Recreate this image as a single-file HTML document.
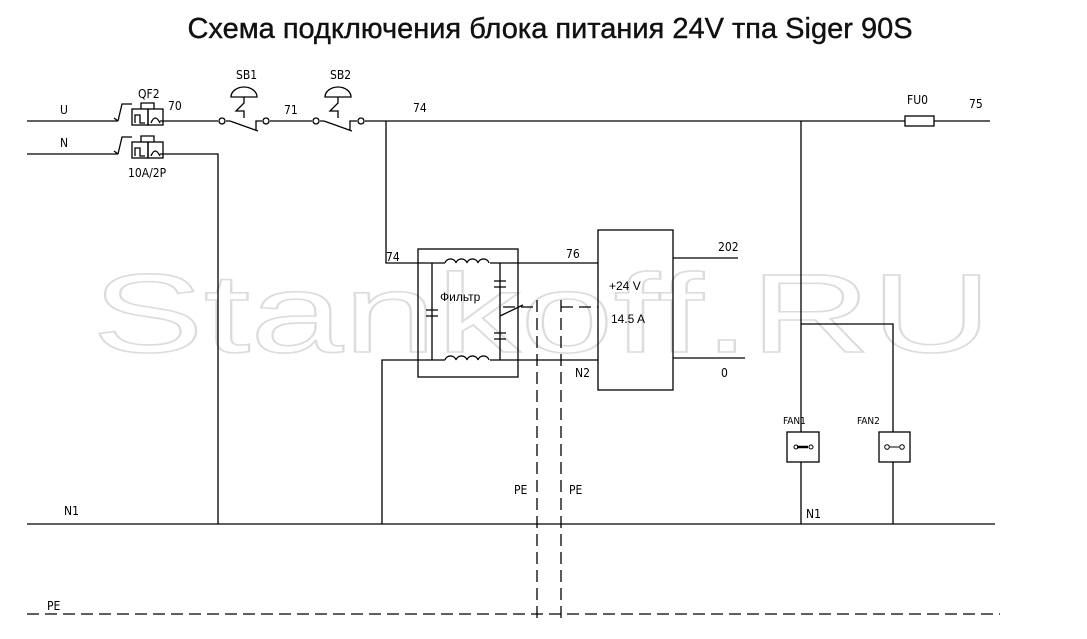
<!DOCTYPE html>
<html><head><meta charset="utf-8"><style>body{margin:0;background:#fff}svg{display:block}</style></head><body>
<svg width="1087" height="639" viewBox="0 0 1087 639" xmlns="http://www.w3.org/2000/svg" font-family="Liberation Sans, sans-serif">
<rect width="1087" height="639" fill="#fff"/>
<text x="550" y="38" font-size="29" text-anchor="middle" fill="#111" stroke="#111" stroke-width="0.4" font-family="Liberation Sans, DejaVu Sans, sans-serif">Схема подключения блока питания 24V тпа Siger 90S</text>
<text x="542" y="352" font-size="112" text-anchor="middle" fill="#fff" stroke="#dcdcdc" stroke-width="1.6" textLength="900" lengthAdjust="spacingAndGlyphs">Stankoff.RU</text>
<g stroke="#000" stroke-width="1.3" fill="none">
<path d="M27 121H118M160 121H218M226 121H230M230 121L258 131M256 131V121H262M270 121H312M320 121H324M324 121L352 131M350 131V121H357M365 121H990"/>
<circle cx="222" cy="121" r="3"/><circle cx="266" cy="121" r="3"/><circle cx="316" cy="121" r="3"/><circle cx="361" cy="121" r="3"/>
<path d="M231 97A13 10 0 0 1 257 97Z M244 97V103L236 111H244V118"/>
<path d="M325 97A13 10 0 0 1 351 97Z M338 97V103L330 111H338V118"/>
<path d="M118 121L122 104H132M118 121L114 118M118 154L122 137H132M118 154L114 151M27 154H118"/>
<rect x="132" y="109" width="16" height="16"/><rect x="148" y="109" width="15" height="16"/>
<path d="M141 109V103H154V109M135 123V115H140V123H145M151 123Q155 113 160 123"/>
<rect x="132" y="142" width="16" height="16"/><rect x="148" y="142" width="15" height="16"/>
<path d="M141 142V136H154V142M135 156V148H140V156H145M151 156Q155 146 160 156"/>
<path d="M160 154H218V524"/>
<path d="M386 121V263H418"/>
<rect x="418" y="249" width="100" height="128"/>
<path d="M418 263H445M490 263H598M418 360H382V524M418 360H445M490 360H598"/>
<path d="M432 263V360M500 263V360"/>
<path d="M445 263a5.6 5 0 0 1 11 0a5.6 5 0 0 1 11 0a5.6 5 0 0 1 11 0a5.6 5 0 0 1 11 0"/>
<path d="M445 360a5.6 5 0 0 1 11 0a5.6 5 0 0 1 11 0a5.6 5 0 0 1 11 0a5.6 5 0 0 1 11 0"/>
<path d="M426 310H438M426 316H438M494 281H506M494 287H506M494 333H506M494 339H506"/>
<path d="M500 316L523 305" />
<rect x="598" y="230" width="75" height="160"/>
<path d="M673 258H738M673 358H745"/>
<path d="M801 121V432M801 462V524M801 324H893V432M893 462V524"/>
<rect x="787" y="432" width="32" height="30"/><rect x="879" y="432" width="31" height="30"/>
<path d="M797 447H808" stroke-width="2.5"/><circle cx="796" cy="447" r="2" stroke-width="1"/><circle cx="811" cy="447" r="2" stroke-width="1"/>
<path d="M889 447H899" stroke-width="1"/><circle cx="887" cy="447" r="2.3" stroke-width="1"/><circle cx="902" cy="447" r="2.3" stroke-width="1"/>
<rect x="905" y="116" width="29" height="10" fill="#fff"/>
<path d="M27 524H995"/>
<path d="M27 614H1000M537 300V620M561 300V620M503 307H537M561 307H598" stroke-dasharray="12 6"/>
</g>
<g font-size="12" fill="#000" font-family="DejaVu Sans Condensed, Liberation Sans Narrow, sans-serif">
<text x="60" y="114">U</text><text x="60" y="147">N</text>
<text x="138" y="98">QF2</text><text x="168" y="110">70</text><text x="128" y="177">10A/2P</text>
<text x="236" y="79">SB1</text><text x="330" y="79">SB2</text>
<text x="284" y="114">71</text><text x="413" y="112">74</text>
<text x="907" y="104">FU0</text><text x="969" y="108">75</text>
<text x="386" y="261">74</text><text x="566" y="258">76</text>
<text x="718" y="251">202</text><text x="721" y="377">0</text>
<text x="575" y="377">N2</text>
<text x="783" y="424" font-size="10">FAN1</text><text x="857" y="424" font-size="10">FAN2</text>
<text x="806" y="518">N1</text><text x="64" y="515">N1</text>
<text x="514" y="494">PE</text><text x="569" y="494">PE</text><text x="47" y="610">PE</text>
</g>
<g font-size="12" fill="#000">
<text x="440" y="301">Фильтр</text>
<text x="609" y="290">+24 V</text><text x="611" y="323">14.5 A</text>
</g>
</svg>
</body></html>
